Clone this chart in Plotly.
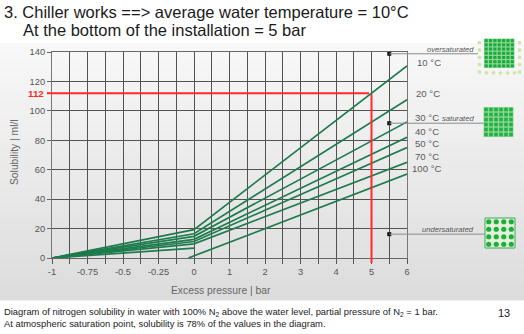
import plotly.graph_objects as go

# ---------------- data ----------------
temps = ["10 °C", "20 °C", "30 °C", "40 °C", "50 °C", "70 °C", "100 °C"]
sol_at_0bar = [19.3, 16.5, 14.7, 12.7, 11.2, 9.6, 6.7]      # ml/l at 0 bar excess
sol_at_6bar = [130.5, 107.5, 92.5, 82.0, 75.0, 65.0, 57.0]  # ml/l at 6 bar excess
start_100 = -0.04                                            # 100 °C branch leaves zero here
x_tick_values = [-1, -0.75, -0.5, -0.25, 0, 1, 2, 3, 4, 5, 6]
x_tick_labels = ["-1", "-0.75", "-0.5", "-0.25", "0", "1", "2", "3", "4", "5", "6"]
y_tick_values = [0, 20, 40, 60, 80, 100, 120, 140]
reading_pressure = 5
reading_solubility = 112
state_names = ["oversaturated", "saturated", "undersaturated"]
state_levels = [138.8, 91.6, 16.2]
state_pressure = 5.5

# ---------------- geometry helpers ----------------
W_FIG, H_FIG = 524, 334
L, R, T, B = 52, 117, 52, 76
PW = W_FIG - L - R
PH = H_FIG - T - B


def px(x):
    return (x - L) / PW


def py(y):
    return (T + PH - y) / PH


def u(p):
    # diagram axis: -1..0 bar stretched (quarter steps) then 1 bar steps
    return 4 * p if p <= 0 else p


GREEN = "#1e7b4e"
RED = "#ff2a2a"
GRID = "#525252"
FONT = "Liberation Sans, Arial, sans-serif"

fig = go.Figure()

for t, v0, v6 in zip(temps, sol_at_0bar, sol_at_6bar):
    if t == "100 °C":
        xs = [u(-1), u(0), None, u(start_100), u(6)]
        ys = [0, v0, None, 0, v6]
    else:
        xs = [u(-1), u(0), u(6)]
        ys = [0, v0, v6]
    fig.add_trace(go.Scatter(x=xs, y=ys, mode="lines", line=dict(color=GREEN, width=1.7),
                             showlegend=False, hoverinfo="skip", name=t))

# red reading lines
fig.add_trace(go.Scatter(
    x=[u(-1), u(reading_pressure) - 0.07, None, u(reading_pressure), u(reading_pressure)],
    y=[reading_solubility, reading_solubility, None, reading_solubility - 1, 0],
    mode="lines", line=dict(color=RED, width=2), showlegend=False, hoverinfo="skip"))

# state markers
fig.add_trace(go.Scatter(x=[u(state_pressure)] * len(state_levels), y=state_levels, mode="markers",
                         marker=dict(symbol="square", size=4, color="#111"), cliponaxis=False,
                         showlegend=False, hoverinfo="skip"))

# ---------------- axes ----------------
fig.update_xaxes(range=[-4, 6], tickmode="array", tickvals=[u(v) for v in x_tick_values],
                 ticktext=x_tick_labels,
                 showgrid=True, gridcolor=GRID, gridwidth=1, zeroline=False,
                 ticks="outside", ticklen=5, tickcolor="#555", tickwidth=1,
                 minor=dict(tick0=0, dtick=0.5, ticks="outside", ticklen=5, tickcolor="#555",
                            showgrid=True, gridcolor=GRID, gridwidth=1),
                 showline=True, linecolor="#666", mirror=True,
                 tickfont=dict(family=FONT, size=9.3, color="#555"))
fig.update_yaxes(range=[0, 140], tickmode="array", tickvals=y_tick_values,
                 showgrid=True, gridcolor=GRID, gridwidth=1, zeroline=False,
                 ticks="outside", ticklen=4, tickcolor="#666", tickwidth=1,
                 showline=True, linecolor="#777", mirror=True,
                 tickfont=dict(family=FONT, size=9.3, color="#555"))

shapes = []
# background gradient panel
n = 32
y_top, y_bot = 43, 300
for i in range(n):
    y0 = y_top + (y_bot - y_top) * i / n
    y1 = y_top + (y_bot - y_top) * (i + 1) / n + 0.5
    f = i / (n - 1)
    c = int(248 - (248 - 221) * f)
    shapes.append(dict(type="rect", xref="paper", yref="paper", x0=px(0), x1=px(W_FIG),
                       y0=py(y1), y1=py(y0), fillcolor=f"rgb({c},{c},{c})", line=dict(width=0),
                       layer="below"))

# red ticks
shapes.append(dict(type="line", xref="x", yref="paper", x0=u(reading_pressure), x1=u(reading_pressure),
                   y0=-5 / PH, y1=0, line=dict(color=RED, width=2)))
shapes.append(dict(type="line", xref="paper", yref="y", x0=-5 / PW, x1=0,
                   y0=reading_solubility, y1=reading_solubility, line=dict(color=RED, width=2)))

# state connector lines
state_line_end = [478, 484, 485]
for lvl, xe in zip(state_levels, state_line_end):
    yp = T + PH * (1 - lvl / 140)
    shapes.append(dict(type="line", xref="paper", yref="paper",
                       x0=px(L + PW * (u(state_pressure) + 4) / 10), x1=px(xe),
                       y0=py(yp), y1=py(yp), line=dict(color="#8a8a8a", width=1)))


def rect(x0, y0, x1, y1, fill, line_color=None, lw=0):
    shapes.append(dict(type="rect", xref="paper", yref="paper", x0=px(x0), x1=px(x1),
                       y0=py(y1), y1=py(y0), fillcolor=fill,
                       line=dict(color=line_color or fill, width=lw)))


def dot(cx, cy, r, fill):
    shapes.append(dict(type="circle", xref="paper", yref="paper", x0=px(cx - r), x1=px(cx + r),
                       y0=py(cy + r), y1=py(cy - r), fillcolor=fill, line=dict(width=0)))


# oversaturated icon
for yy in [42.7, 50, 57.3, 64.6, 71.9]:
    dot(479.5, yy, 1.9, "#cfe6a6")
    dot(519.5, yy, 1.9, "#cfe6a6")
for xx in [486.5, 493.5, 500.5, 507.5, 514.5]:
    dot(xx, 72.8, 1.9, "#cfe6a6")
rect(484, 38.5, 514.5, 68, "#8fd88f")
cs = 30.5 / 7
for i in range(7):
    for j in range(7):
        rect(484 + i * cs + 0.6, 38.5 + j * (29.5 / 7) + 0.6, 484 + (i + 1) * cs - 0.6,
             38.5 + (j + 1) * (29.5 / 7) - 0.6, "#1aa843")

# saturated icon
rect(483.5, 107, 513.5, 137, "#8fd88f")
cs = 30 / 6
for i in range(6):
    for j in range(6):
        rect(483.5 + i * cs + 0.7, 107 + j * cs + 0.7, 483.5 + (i + 1) * cs - 0.7,
             107 + (j + 1) * cs - 0.7, "#22b048")

# undersaturated icon
rect(485, 218, 515, 248, "#e4f1da", "#3aa85a", 1)
for i in range(4):
    for j in range(4):
        dot(485 + 3.75 + i * 7.5, 218 + 3.75 + j * 7.5, 2.6, "#1fae3d")

annotations = []


def text(x, y, s, size, color="#555", xanchor="left", yanchor="middle", angle=0, family=FONT):
    annotations.append(dict(xref="paper", yref="paper", x=px(x), y=py(y), text=s, showarrow=False,
                            xanchor=xanchor, yanchor=yanchor, textangle=angle,
                            font=dict(family=family, size=size, color=color)))


text(2, 12, "3. Chiller works ==> average water temperature = 10°C", 16.5, "#1a1a1a")
text(20.5, 30, "At the bottom of the installation = 5 bar", 16.5, "#1a1a1a")

text(221, 290, "Excess pressure | bar", 10.3, "#666", xanchor="center")
text(14, 152, "Solubility | ml/l", 10.3, "#666", xanchor="center", angle=-90)

annotations.append(dict(xref="paper", yref="y", x=0, y=reading_solubility, xshift=-6,
                        text="<b>%d</b>" % reading_solubility, showarrow=False, xanchor="right",
                        yanchor="middle", font=dict(family=FONT, size=9.8, color=RED)))

temp_label_pos = [(415, 62), (414, 93), (413, 117), (413, 131), (413, 143), (413, 156), (409.5, 168)]
for t, (xx, yy) in zip(temps, temp_label_pos):
    text(xx, yy, t, 9.6, "#5a5a5a")

state_label_y = [49.3, 118.3, 229.3]
for s, yy in zip(state_names, state_label_y):
    text(476, yy, "<i>%s</i>" % s, 7.6, "#555", xanchor="right")

text(2, 311.5, "Diagram of nitrogen solubility in water with 100% N<sub>2</sub> above the water level, "
     "partial pressure of N<sub>2</sub> = 1 bar.", 9.4, "#222")
text(2, 323, "At atmospheric saturation point, solubility is 78% of the values in the diagram.", 9.4, "#222")
text(504, 312.5, "13", 11, "#222", xanchor="center")

fig.update_layout(width=W_FIG, height=H_FIG, margin=dict(l=L, r=R, t=T, b=B, pad=0),
                  paper_bgcolor="white", plot_bgcolor="rgba(0,0,0,0)",
                  shapes=shapes, annotations=annotations, showlegend=False,
                  font=dict(family=FONT))

fig.write_html("out.html")
